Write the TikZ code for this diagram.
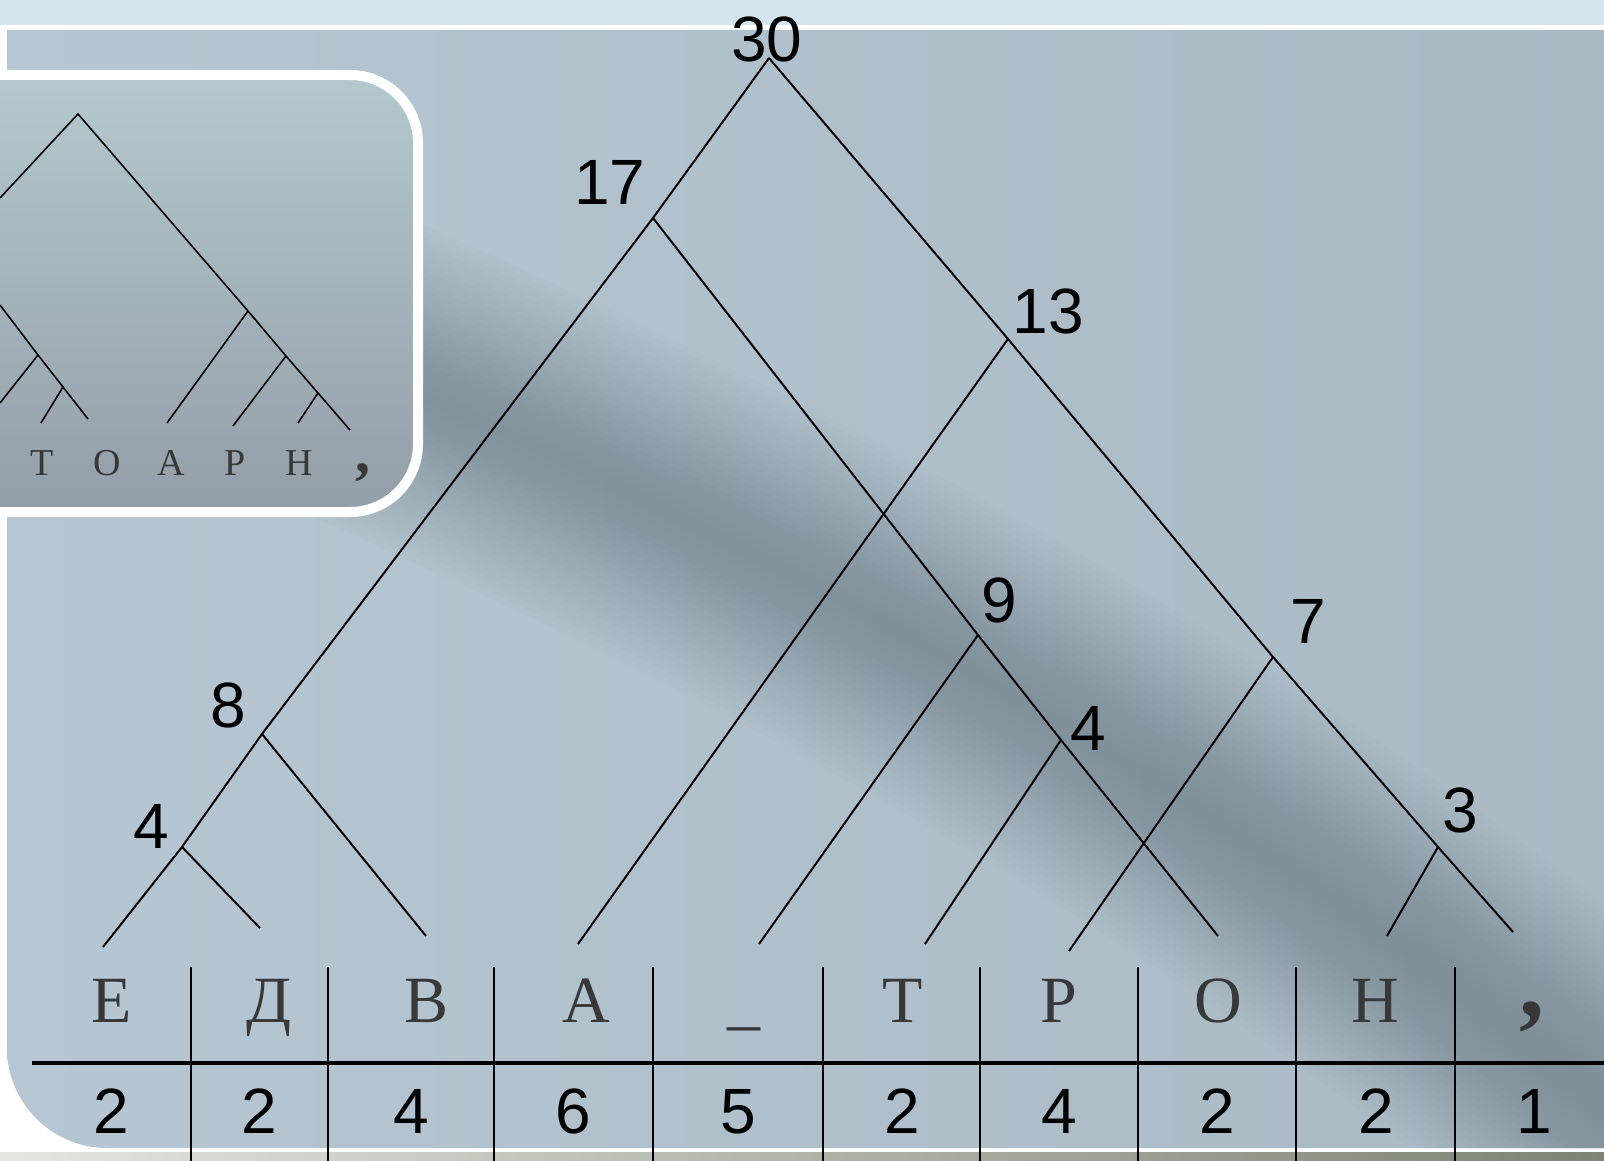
\documentclass[tikz,border=0pt]{standalone}
\usepackage{fontspec}
\setmainfont{Liberation Serif}
\newfontfamily\digitfont{Liberation Sans}
\usepackage{tikz}
\definecolor{skystrip}{HTML}{D3E6EF}
\definecolor{paneleft}{HTML}{B6C6D2}
\definecolor{paneright}{HTML}{A9BAC5}
\definecolor{shadowgray}{HTML}{5E6E78}
\definecolor{insettop}{HTML}{B3C9CD}
\definecolor{insetbottom}{HTML}{949EA8}
\definecolor{inkgray}{HTML}{383838}
\definecolor{floorlight}{HTML}{E4E6E0}
\definecolor{floordark}{HTML}{7C8474}
\tikzset{
  branch/.style={draw=black, line width=2pt},
  minibranch/.style={draw=black, line width=1.6pt},
  rule/.style={draw=black, line width=2.6pt},
  weight/.style={
    font=\digitfont\fontsize{64}{64}\selectfont,
    inner sep=0pt,
    anchor=base,
    text=black
  },
  letter/.style={
    font=\fontsize{66}{66}\selectfont,
    inner sep=0pt,
    anchor=base,
    text=inkgray
  },
  miniletter/.style={
    font=\fontsize{38}{38}\selectfont,
    inner sep=0pt,
    anchor=base,
    text=inkgray
  }
}

\begin{document}
\begin{tikzpicture}[x=1pt,y=-1pt]
    \useasboundingbox (0,0) rectangle (1604,1161);
    \clip (0,0) rectangle (1604,1161);

    % slide background
    \fill[white] (0,0) rectangle (1604,1161);
    \fill[skystrip] (0,0) rectangle (1604,25);
    \shade[left color=floorlight, right color=floordark] (0,1152) rectangle (1604,1161);
    \shade[left color=paneleft, right color=paneright]
      (7,30) -- (7,1048) .. controls (7,1103) and (52,1148) .. (107,1148) -- (1604,1148) -- (1604,30) -- cycle;
    \begin{scope}
      \clip (7,30) -- (7,1048) .. controls (7,1103) and (52,1148) .. (107,1148) -- (1604,1148) -- (1604,30) -- cycle;
      \foreach \w in {12,24,...,312}
        \draw[shadowgray, opacity=0.024, line width=\w pt]
          (300,340) .. controls (750,540) and (1200,760) .. (1700,1180);
    \end{scope}

    % small tree in the corner box
    \shade[top color=insettop, bottom color=insetbottom, rounded corners=68pt] (-120,75) rectangle (418,512);
    \draw[white, line width=10pt, rounded corners=68pt] (-120,75) rectangle (418,512);

    \coordinate (m0) at (78,114);
    \coordinate (m0l) at (0,198);
    \coordinate (m1) at (248,311);
    \coordinate (m2) at (286,356);
    \coordinate (m3) at (318,393);
    \coordinate (m3r) at (350,430);
    \coordinate (m1l) at (167,423);
    \coordinate (m2l) at (233,426);
    \coordinate (m3l) at (298,423);
    \coordinate (k0) at (0,305);
    \coordinate (k1) at (38,355);
    \coordinate (k2) at (63,387);
    \coordinate (k2r) at (88,419);
    \coordinate (k1l) at (0,403);
    \coordinate (k2l) at (41,423);
    \draw[minibranch] (m0l) -- (m0) -- (m1) -- (m2) -- (m3) -- (m3r);
    \draw[minibranch] (m1) -- (m1l);
    \draw[minibranch] (m2) -- (m2l);
    \draw[minibranch] (m3) -- (m3l);
    \draw[minibranch] (k0) -- (k1) -- (k2) -- (k2r);
    \draw[minibranch] (k1) -- (k1l);
    \draw[minibranch] (k2) -- (k2l);

    \node[miniletter] (sT) at (42,475) {Т};
    \node[miniletter] (sO) at (107,475) {О};
    \node[miniletter] (sA) at (171,475) {А};
    \node[miniletter] (sR) at (235,475) {Р};
    \node[miniletter] (sN) at (299,475) {Н};
    \node[miniletter, font=\fontsize{60}{60}\selectfont\bfseries] (sC) at (363,472) {,};

    % big tree
    \coordinate (v30) at (769,58);
    \coordinate (v17) at (653,218);
    \coordinate (v13) at (1008,339);
    \coordinate (v9) at (978,635);
    \coordinate (v7) at (1273,657);
    \coordinate (v4b) at (1061,740);
    \coordinate (v3) at (1438,847);
    \coordinate (v8) at (262,734);
    \coordinate (v4a) at (182,847);
    \coordinate (tE) at (103,947);
    \coordinate (tD) at (260,928);
    \coordinate (tV) at (426,936);
    \coordinate (tA) at (578,944);
    \coordinate (tSp) at (759,944);
    \coordinate (tT) at (925,944);
    \coordinate (tR) at (1069,951);
    \coordinate (tO) at (1218,936);
    \coordinate (tN) at (1387,936);
    \coordinate (tC) at (1513,932);

    \draw[branch] (v30) -- (v17) -- (v8) -- (v4a) -- (tE);
    \draw[branch] (v4a) -- (tD);
    \draw[branch] (v8) -- (tV);
    \draw[branch] (v17) -- (v9) -- (v4b) -- (tO);
    \draw[branch] (v9) -- (tSp);
    \draw[branch] (v4b) -- (tT);
    \draw[branch] (v30) -- (v13) -- (v7) -- (v3) -- (tC);
    \draw[branch] (v13) -- (tA);
    \draw[branch] (v7) -- (tR);
    \draw[branch] (v3) -- (tN);

    \node[weight] (w30) at (767,62) {30};
    \node[weight] (w17) at (610,205) {17};
    \node[weight] (w13) at (1048,333) {13};
    \node[weight] (w9) at (999,622) {9};
    \node[weight] (w7) at (1308,643) {7};
    \node[weight] (w4b) at (1088,750) {4};
    \node[weight] (w3) at (1460,832) {3};
    \node[weight] (w8) at (228,727) {8};
    \node[weight] (w4a) at (151,848) {4};

    % frequency table
    \draw[rule, line width=3.4pt] (32,1063) -- (1604,1063);
    \draw[rule] (191,967) -- (191,1161);
    \draw[rule] (328,967) -- (328,1161);
    \draw[rule] (494,967) -- (494,1161);
    \draw[rule] (653,967) -- (653,1161);
    \draw[rule] (823,967) -- (823,1161);
    \draw[rule] (980,967) -- (980,1161);
    \draw[rule] (1138,967) -- (1138,1161);
    \draw[rule] (1296,967) -- (1296,1161);
    \draw[rule] (1455,967) -- (1455,1161);

    \node[letter] (cE) at (112,1022) {Е};
    \node[letter] (cD) at (269,1022) {Д};
    \node[letter] (cV) at (427,1022) {В};
    \node[letter] (cA) at (586,1022) {А};
    \node[letter] (cSp) at (744,1022) {\_};
    \node[letter] (cT) at (903,1022) {Т};
    \node[letter] (cR) at (1059,1022) {Р};
    \node[letter] (cO) at (1218,1022) {О};
    \node[letter] (cN) at (1375,1022) {Н};
    \node[letter, font=\fontsize{100}{100}\selectfont\bfseries] (cC) at (1532,1016) {,};

    \node[weight] (fE) at (111,1133) {2};
    \node[weight] (fD) at (259,1133) {2};
    \node[weight] (fV) at (411,1133) {4};
    \node[weight] (fA) at (573,1133) {6};
    \node[weight] (fSp) at (738,1133) {5};
    \node[weight] (fT) at (902,1133) {2};
    \node[weight] (fR) at (1059,1133) {4};
    \node[weight] (fO) at (1217,1133) {2};
    \node[weight] (fN) at (1376,1133) {2};
    \node[weight] (fC) at (1534,1133) {1};
\end{tikzpicture}
\end{document}
